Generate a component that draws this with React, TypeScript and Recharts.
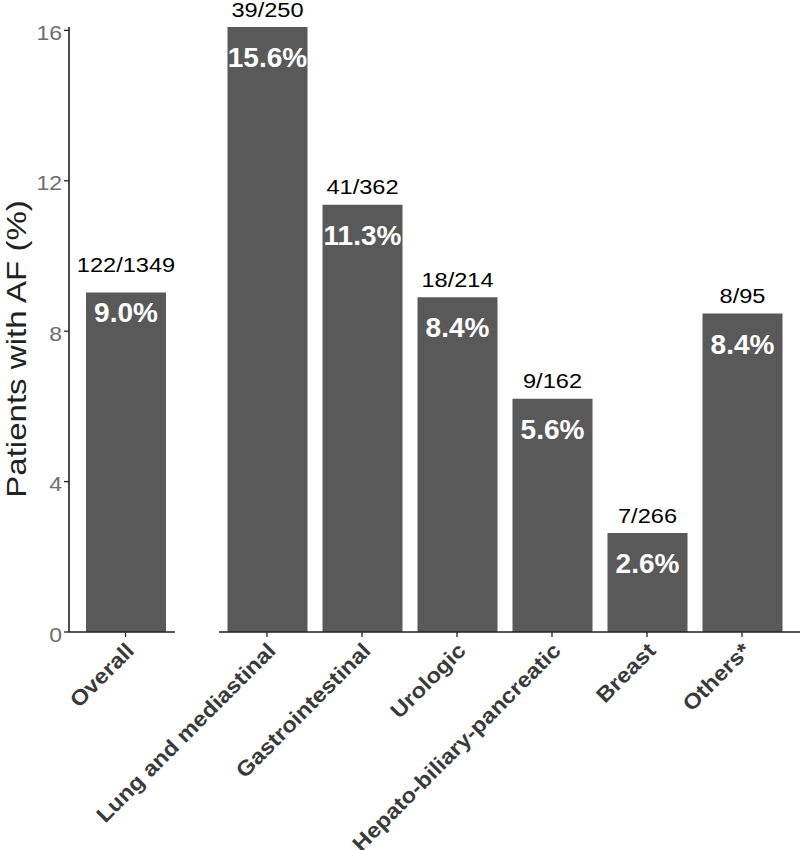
import React from 'react';
import { BarChart, Bar, XAxis, YAxis, LabelList } from 'recharts';

// ---- data ----
const overallCategories = ['Overall'];
const overallValues = [9.03];
const overallCounts = ['122/1349'];
const overallPercents = ['9.0%'];

const siteCategories = [
  'Lung and mediastinal',
  'Gastrointestinal',
  'Urologic',
  'Hepato-biliary-pancreatic',
  'Breast',
  'Others*',
];
const siteValues = [16.09, 11.36, 8.9, 6.2, 2.63, 8.47];
const siteCounts = ['39/250', '41/362', '18/214', '9/162', '7/266', '8/95'];
const sitePercents = ['15.6%', '11.3%', '8.4%', '5.6%', '2.6%', '8.4%'];

const yTicks = [0, 4, 8, 12, 16];
const yMax = Math.max(16, ...overallValues, ...siteValues);
const yDomain: [number, number] = [0, yMax];
const yTitle = 'Patients with AF (%)';

const overallData = overallCategories.map((name, i) => ({
  name,
  value: overallValues[i],
  count: overallCounts[i],
  pct: overallPercents[i],
}));
const siteData = siteCategories.map((name, i) => ({
  name,
  value: siteValues[i],
  count: siteCounts[i],
  pct: sitePercents[i],
}));

// ---- styles ----
const FONT = '"Liberation Sans", Arial, Helvetica, sans-serif';
const BAR = '#595959';
const AXIS = '#222222';
const STRETCH = 'scale(1.15,1)';
const CHART_H = 850;
const TOP = 27;
const XAXIS_H = 218;

const makeTopLabel = (gap: number) => (props: any) => {
  const { x, y, width, value } = props;
  const cx = Number(x) + Number(width) / 2;
  const ty = Number(y) - gap;
  return (
    <g transform={`translate(${cx},${ty})`}>
      <text
        x={0}
        y={0}
        textAnchor="middle"
        transform={STRETCH}
        fontFamily={FONT}
        fontSize={20.5}
        fill="#000"
      >
        {value}
      </text>
    </g>
  );
};

const makeInnerLabel = (gap: number) => (props: any) => {
  const { x, y, width, value } = props;
  const cx = Number(x) + Number(width) / 2;
  return (
    <text
      x={cx}
      y={Number(y) + gap}
      textAnchor="middle"
      fontFamily={FONT}
      fontWeight="bold"
      fontSize={28}
      fill="#ffffff"
    >
      {value}
    </text>
  );
};

const YTick = (props: any) => {
  const { x, y, payload } = props;
  return (
    <g transform={`translate(${x},${y})`}>
      <text
        x={0}
        y={0}
        dy={9.5}
        textAnchor="end"
        transform={STRETCH}
        fontFamily={FONT}
        fontSize={20}
        fill="#6e6e6e"
      >
        {payload.value}
      </text>
    </g>
  );
};

const XTick = (props: any) => {
  const { x, y, payload } = props;
  return (
    <g transform={`translate(${Number(x) + 10},${Number(y) + 13})`}>
      <text
        x={0}
        y={0}
        textAnchor="end"
        transform="rotate(-45) scale(1.1,1)"
        fontFamily={FONT}
        fontWeight="bold"
        fontSize={21.5}
        fill="#3a3a3a"
      >
        {payload.value}
      </text>
    </g>
  );
};

const YTitle = () => (
  <g transform="translate(26,349)">
    <text
      x={0}
      y={0}
      textAnchor="middle"
      transform="rotate(-90) scale(1.16,1)"
      fontFamily={FONT}
      fontSize={28.5}
      fill="#222"
    >
      {yTitle}
    </text>
  </g>
);

export default function App() {
  return (
    <div
      style={{
        position: 'absolute',
        left: 0,
        top: 0,
        width: 800,
        height: 850,
        background: '#fff',
        overflow: 'hidden',
      }}
    >
      <div style={{ position: 'absolute', left: 0, top: 0 }}>
        <BarChart
          width={800}
          height={CHART_H}
          data={siteData}
          margin={{ top: TOP, right: 0, left: 219, bottom: 0 }}
          barSize={80}
        >
          <XAxis
            dataKey="name"
            height={XAXIS_H}
            padding={{ left: 0.5, right: 10.5 }}
            axisLine={{ stroke: AXIS, strokeWidth: 1.6 }}
            tickLine={{ stroke: AXIS, strokeWidth: 1.3 }}
            tickSize={5}
            interval={0}
            tick={<XTick />}
          />
          <YAxis hide width={0} domain={yDomain} ticks={yTicks} />
          <Bar dataKey="value" fill={BAR} isAnimationActive={false}>
            <LabelList dataKey="count" content={makeTopLabel(10.5)} />
            <LabelList dataKey="pct" content={makeInnerLabel(40)} />
          </Bar>
        </BarChart>
      </div>
      <div style={{ position: 'absolute', left: 0, top: 0 }}>
        <BarChart
          width={180}
          height={CHART_H}
          data={overallData}
          margin={{ top: TOP, right: 5, left: 0, bottom: 0 }}
          barSize={80}
        >
          <XAxis
            dataKey="name"
            height={XAXIS_H}
            padding={{ left: 7, right: 0 }}
            axisLine={{ stroke: AXIS, strokeWidth: 1.6 }}
            tickLine={{ stroke: AXIS, strokeWidth: 1.3 }}
            tickSize={5}
            interval={0}
            tick={<XTick />}
          />
          <YAxis
            width={69}
            domain={yDomain}
            ticks={yTicks}
            axisLine={{ stroke: AXIS, strokeWidth: 1.6 }}
            tickLine={{ stroke: AXIS, strokeWidth: 1.3 }}
            tickSize={5}
            tick={<YTick />}
            label={{ content: () => <YTitle /> }}
          />
          <Bar dataKey="value" fill={BAR} isAnimationActive={false}>
            <LabelList dataKey="count" content={makeTopLabel(20.5)} />
            <LabelList dataKey="pct" content={makeInnerLabel(29.5)} />
          </Bar>
        </BarChart>
      </div>
    </div>
  );
}
